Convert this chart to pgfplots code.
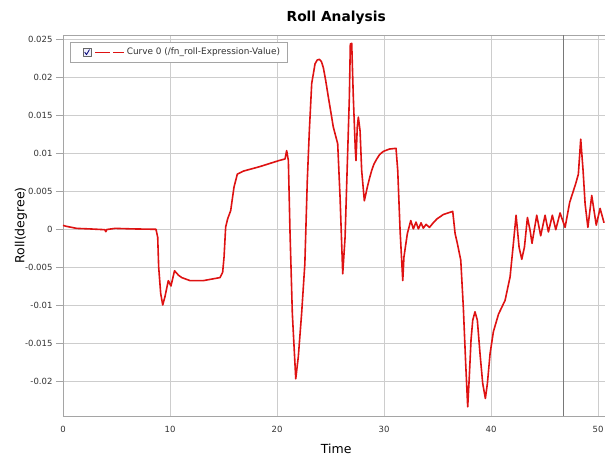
\documentclass[border=0pt]{standalone}
\usepackage{pgfplots}
\pgfplotsset{compat=1.18}
\usepackage{fontspec}
\setmainfont{DejaVu Sans}
\definecolor{curvered}{RGB}{222,18,18}
\definecolor{gridgray}{RGB}{205,205,205}
\definecolor{axisgray}{RGB}{165,165,165}
\definecolor{cursorgray}{RGB}{120,120,120}
\begin{document}
\begin{tikzpicture}
\begin{axis}[
  scale only axis, width=542pt, height=381pt,
  xmin=0, xmax=50.65, ymin=-0.0245, ymax=0.0256,
  xtick={0,10,20,30,40,50},
  ytick={-0.02,-0.015,-0.01,-0.005,0,0.005,0.01,0.015,0.02,0.025},
  yticklabels={-0.02,-0.015,-0.01,-0.005,0,0.005,0.01,0.015,0.02,0.025},
  scaled y ticks=false,
  axis x line*=bottom, axis y line*=left,
  axis line style={axisgray, line width=0.8pt},
  grid=major, major grid style={gridgray, line width=0.7pt},
  tick align=outside, major tick length=7pt,
  ytick style={axisgray, line width=0.8pt},
  xtick style={draw=none},
  tick label style={font=\fontsize{8.5}{10}\selectfont, text=black!80},
  /pgf/number format/assume math mode=true,
  title={Roll Analysis},
  title style={font=\bfseries\fontsize{13.8}{16}\selectfont, at={(axis description cs:0.504,1)}, anchor=center, yshift=11pt},
  xlabel={Time},
  xlabel style={font=\fontsize{12.5}{15}\selectfont, at={(axis description cs:0.504,-0.0855)}, anchor=center},
  ylabel={Roll(degree)},
  ylabel style={font=\fontsize{12.5}{15}\selectfont, at={(axis description cs:-0.0775,0.5)}, anchor=center},
  legend style={at={(axis description cs:0,1)}, anchor=north west, xshift=7pt, yshift=-7pt,
    draw=axisgray, fill=white, font=\fontsize{8.9}{10}\selectfont, text=black!80, inner xsep=5pt, inner ysep=4pt},
  legend cell align=left,
  legend image code/.code={
    \path (0pt,0pt);
    \draw[draw=gray!80!black, fill=blue!6, line width=0.4pt] (7pt,-4pt) rectangle (15pt,4pt);
    \draw[draw=blue!45!black, line width=0.8pt] (8.7pt,0.2pt) -- (10.5pt,-2.3pt) -- (13.5pt,2.8pt);
    \draw[curvered, line width=1.6pt] (19pt,0pt) -- (34pt,0pt);
    \draw[curvered, line width=1.6pt] (37pt,0pt) -- (48pt,0pt);
  },
]
\coordinate (bl) at (rel axis cs:0,0);
\coordinate (tr) at (rel axis cs:1,1);
\draw[axisgray, line width=0.8pt] (rel axis cs:0,1) -- (rel axis cs:1,1);
\draw[cursorgray, line width=1.6pt] (axis cs:46.76,-0.0245) -- (axis cs:46.76,0.0256);
\addplot[curvered, line width=1.6pt, line join=round] coordinates {
(0,0.00056) (0.35,0.00043) (1.28,0.00017) (2.5,0.0001) (3.9,0.0) (4.0,-0.00026) (4.1,0.00002)
(4.86,0.00017) (6.57,0.0001) (8.69,0.00005) (8.85,-0.001) (8.94,-0.0049) (9.13,-0.0084)
(9.32,-0.0099) (9.53,-0.0088) (9.84,-0.0067) (10.09,-0.0074) (10.42,-0.0054) (10.8,-0.006)
(11.1,-0.0063) (11.87,-0.0067) (13.11,-0.0067) (14.67,-0.0063) (14.92,-0.0056) (15.05,-0.0036)
(15.2,0.00034) (15.39,0.00144) (15.67,0.0025) (15.98,0.0056) (16.29,0.0073) (16.85,0.0077)
(18.41,0.0083) (20.21,0.0091) (20.75,0.0093) (20.9,0.0104) (21.06,0.0091) (21.21,-0.0001)
(21.43,-0.011) (21.75,-0.0196) (21.99,-0.0167) (22.3,-0.011) (22.6,-0.0045) (22.83,0.0065)
(23.02,0.013) (23.24,0.0192) (23.55,0.0218) (23.75,0.0223) (23.96,0.0224) (24.15,0.0221)
(24.33,0.0213) (24.55,0.0196) (24.8,0.0174)
(25.26,0.0135) (25.67,0.0113) (25.89,0.0043) (26.14,-0.0058) (26.36,-0.001) (26.57,0.0087)
(26.76,0.0174) (26.85,0.0244) (26.98,0.0245) (27.13,0.0174) (27.32,0.0104) (27.38,0.0091)
(27.5,0.0135) (27.6,0.0148) (27.76,0.013) (27.91,0.0078) (28.16,0.0038) (28.44,0.0056)
(28.65,0.0068) (28.85,0.0078) (29.05,0.0086) (29.32,0.0093) (29.6,0.0099) (29.94,0.0103)
(30.5,0.0106) (31.12,0.0107) (31.28,0.0078) (31.5,-0.0001)
(31.75,-0.0067) (31.86,-0.0036) (32.18,-0.0005) (32.5,0.0012) (32.74,0.0001) (32.99,0.001)
(33.21,0.0001) (33.46,0.0009) (33.67,0.0002) (33.93,0.0007) (34.24,0.0003) (34.6,0.0009) (34.93,0.0014)
(35.55,0.002) (36.42,0.0024) (36.64,-0.0005) (36.85,-0.0018) (37.17,-0.004) (37.41,-0.0102)
(37.63,-0.0176) (37.82,-0.0233) (37.97,-0.0193) (38.13,-0.0145) (38.29,-0.0119) (38.5,-0.0108)
(38.72,-0.0119) (38.97,-0.0163) (39.22,-0.0202) (39.47,-0.0222) (39.66,-0.0202) (39.91,-0.0163)
(40.22,-0.0134) (40.7,-0.0111) (41.31,-0.0093) (41.78,-0.0062) (42.09,-0.0018) (42.34,0.0019)
(42.62,-0.0023) (42.87,-0.0039) (43.12,-0.0023) (43.4,0.0016) (43.65,-0.0001) (43.83,-0.0018)
(44.27,0.0019) (44.64,-0.0008) (45.05,0.0019) (45.36,-0.0003) (45.73,0.0019) (46.05,0.0)
(46.45,0.0022) (46.92,0.0003) (47.35,0.0036) (47.9,0.006) (48.16,0.0073) (48.38,0.0119)
(48.6,0.0078) (48.79,0.0034) (49.05,0.0003) (49.41,0.0045) (49.83,0.0006) (50.19,0.0028)
(50.56,0.0009)
};
\addlegendentry{Curve 0 (/fn\_roll-Expression-Value)}
\end{axis}
\pgfresetboundingbox
\path[use as bounding box] ([xshift=-63pt,yshift=-42pt]bl) rectangle ([yshift=35pt]tr);
\end{tikzpicture}
\end{document}
